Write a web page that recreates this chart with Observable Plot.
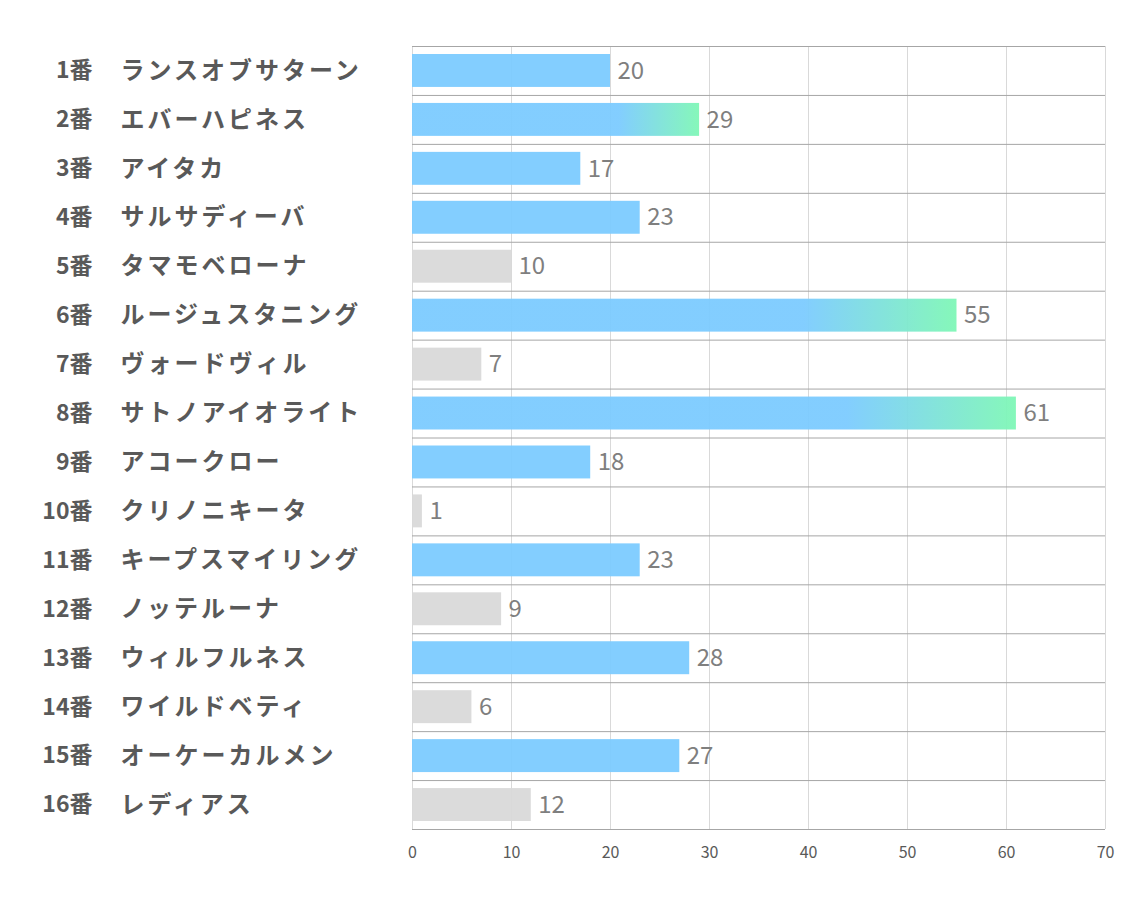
<!DOCTYPE html>
<html><head><meta charset="utf-8">
<script src="https://cdn.jsdelivr.net/npm/d3@7"></script>
<script src="https://cdn.jsdelivr.net/npm/@observablehq/plot@0.6"></script>
<style>
body{margin:0;background:#fff;}
#chart svg{display:block;}
</style>
</head><body><div id="chart"></div>
<script>
const nums = ["1番","2番","3番","4番","5番","6番","7番","8番","9番","10番","11番","12番","13番","14番","15番","16番"];
const names = ["ランスオブサターン","エバーハピネス","アイタカ","サルサディーバ","タマモベローナ","ルージュスタニング","ヴォードヴィル","サトノアイオライト","アコークロー","クリノニキータ","キープスマイリング","ノッテルーナ","ウィルフルネス","ワイルドベティ","オーケーカルメン","レディアス"];
const values = [20,29,17,23,10,55,7,61,18,1,23,9,28,6,27,12];
const kinds = ["blue","grad","blue","blue","gray","grad","gray","grad","blue","gray","blue","gray","blue","gray","blue","gray"];
const xTicks = [0,10,20,30,40,50,60,70];

const data = names.map((n,i)=>({key:nums[i]+n, num:nums[i], name:n, value:values[i], kind:kinds[i]}));
const keys = data.map(d=>d.key);

const W=1134, H=907, mT=46, mB=78, mL=412, mR=29;
const half = (H-mT-mB)/16/2;
const font = "'Noto Sans CJK JP', 'Noto Sans', sans-serif";

const plot = Plot.plot({
  width: W, height: H,
  marginTop: mT, marginBottom: mB, marginLeft: mL, marginRight: mR,
  style: {fontFamily: font, background: "#fff"},
  x: {domain: [0,70], axis: null},
  y: {domain: keys, padding: 0, round: false, axis: null},
  marks: [
    Plot.ruleX(xTicks, {stroke: "#d9d9d9", strokeWidth: 1}),
    Plot.ruleY(keys, {y: d=>d, dy: -half, stroke: "#a6a6a6", strokeWidth: 1}),
    Plot.ruleY([keys[keys.length-1]], {y: d=>d, dy: half, stroke: "#a6a6a6", strokeWidth: 1}),
    Plot.barX(data.filter(d=>d.kind==="blue"), {x: "value", y: "key", fill: "#7ccbff", fillOpacity: 0.95, insetTop: 8, insetBottom: 8}),
    Plot.barX(data.filter(d=>d.kind==="gray"), {x: "value", y: "key", fill: "#d9d9d9", fillOpacity: 0.95, insetTop: 8, insetBottom: 8}),
    Plot.barX(data.filter(d=>d.kind==="grad"), {x: "value", y: "key", fill: "url(#barGrad)", fillOpacity: 0.95, insetTop: 8, insetBottom: 8}),
    Plot.text(data, {x: "value", y: "key", text: d=>String(d.value), dx: 7, textAnchor: "start", fill: "#7f7f7f", fontSize: 24}),
    Plot.text(data, {y: "key", text: "num", frameAnchor: "left", dx: 92-mL, textAnchor: "end", fill: "#595959", fontSize: 23, fontWeight: "bold"}),
    Plot.text(data, {y: "key", text: "name", frameAnchor: "left", dx: 120-mL, textAnchor: "start", fill: "#595959", fontSize: 24, fontWeight: "bold"}),
    Plot.text(xTicks, {x: d=>d, frameAnchor: "bottom", dy: 28, text: d=>String(d), fill: "#595959", fontSize: 16})
  ]
});

const svg = d3.select(plot);
const nameSet = new Set(names);
svg.selectAll("text").each(function() {
  if (nameSet.has(this.textContent)) this.style.letterSpacing = "3px";
});
const defs = svg.insert("defs", ":first-child");
const g = defs.append("linearGradient").attr("id","barGrad").attr("x1","0").attr("x2","1").attr("y1","0").attr("y2","0");
g.append("stop").attr("offset","0%").attr("stop-color","#7ccbff");
g.append("stop").attr("offset","72%").attr("stop-color","#7ccbff");
g.append("stop").attr("offset","100%").attr("stop-color","#7ff7b6");
document.getElementById("chart").appendChild(plot);
</script>
</body></html>
